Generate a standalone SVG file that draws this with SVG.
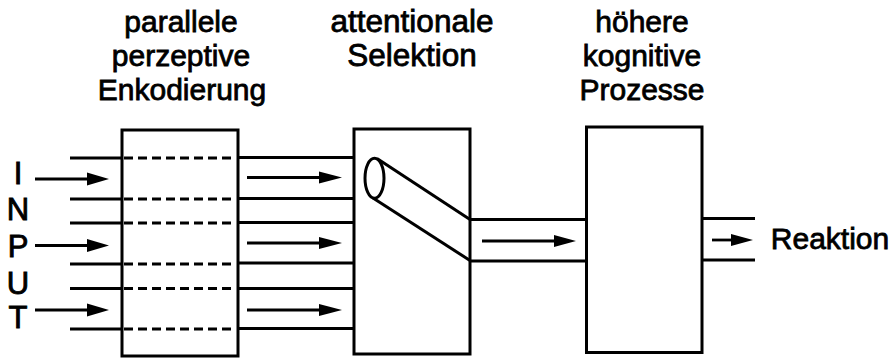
<svg xmlns="http://www.w3.org/2000/svg" width="895" height="360" viewBox="0 0 895 360">
  <defs>
    <style>
      .box { fill: #fff; stroke: #000; stroke-width: 3; }
      .ln { stroke: #000; stroke-width: 3; fill: none; }
      .dash { stroke: #000; stroke-width: 3; stroke-dasharray: 9 5; fill: none; }
      .arr { stroke: #000; stroke-width: 2.8; fill: none; }
      .head { fill: #000; }
      .lbl { font-family: "Liberation Sans", Arial, sans-serif; font-size: 30px; fill: #000; stroke: #000; stroke-width: 0.8; text-anchor: middle; }
      .inp { font-family: "Liberation Sans", Arial, sans-serif; font-size: 31px; fill: #000; stroke: #000; stroke-width: 0.9; text-anchor: middle; }
    </style>
  </defs>
  <rect width="895" height="360" fill="#fff"/>

  <!-- stage headings -->
  <g id="heading-encoding">
    <text class="lbl" x="181" y="32">parallele</text>
    <text class="lbl" x="181" y="66">perzeptive</text>
    <text class="lbl" x="182" y="100">Enkodierung</text>
  </g>
  <g id="heading-selection">
    <text class="lbl" x="412" y="32" style="font-size:31.5px">attentionale</text>
    <text class="lbl" x="412" y="66" style="font-size:31.5px">Selektion</text>
  </g>
  <g id="heading-cognition">
    <text class="lbl" x="642" y="32">höhere</text>
    <text class="lbl" x="642" y="66">kognitive</text>
    <text class="lbl" x="642" y="100">Prozesse</text>
  </g>

  <!-- INPUT letters -->
  <g id="input-label">
    <text class="inp" x="18" y="184">I</text>
    <text class="inp" x="18" y="220">N</text>
    <text class="inp" x="18" y="257">P</text>
    <text class="inp" x="18" y="294">U</text>
    <text class="inp" x="18" y="328">T</text>
  </g>

  <!-- boxes -->
  <g id="encoding">
    <rect class="box" x="122" y="130" width="116" height="226"/>
  </g>
  <g id="selection">
    <rect class="box" x="354" y="129" width="116" height="225"/>
    <!-- selection tube -->
    <line class="ln" x1="377" y1="158.5" x2="470" y2="219.5"/>
    <line class="ln" x1="373" y1="198" x2="470" y2="260.5"/>
    <ellipse class="ln" cx="374.5" cy="178.3" rx="9.5" ry="20" fill="#fff"/>
  </g>
  <g id="cognition">
    <rect class="box" x="586.5" y="127" width="115.5" height="225.5"/>
  </g>
  <g id="reaction">
    <text class="lbl" x="830" y="249">Reaktion</text>
  </g>

  <g id="connectors">
    <!-- parallel channels: input side -->
    <g>
      <line class="ln" x1="70" y1="158" x2="122" y2="158"/>
      <line class="ln" x1="70" y1="199" x2="122" y2="199"/>
      <line class="ln" x1="70" y1="223" x2="122" y2="223"/>
      <line class="ln" x1="70" y1="264" x2="122" y2="264"/>
      <line class="ln" x1="70" y1="288.5" x2="122" y2="288.5"/>
      <line class="ln" x1="70" y1="329" x2="122" y2="329"/>
    </g>
    <!-- channels through the encoding stage -->
    <g>
      <line class="dash" x1="124" y1="158" x2="236" y2="158"/>
      <line class="dash" x1="124" y1="199" x2="236" y2="199"/>
      <line class="dash" x1="124" y1="223" x2="236" y2="223"/>
      <line class="dash" x1="124" y1="264" x2="236" y2="264"/>
      <line class="dash" x1="124" y1="288.5" x2="236" y2="288.5"/>
      <line class="dash" x1="124" y1="329" x2="236" y2="329"/>
    </g>
    <!-- channels to the selection stage -->
    <g>
      <line class="ln" x1="238" y1="157.5" x2="354" y2="157.5"/>
      <line class="ln" x1="238" y1="198.5" x2="354" y2="198.5"/>
      <line class="ln" x1="238" y1="222.5" x2="354" y2="222.5"/>
      <line class="ln" x1="238" y1="263" x2="354" y2="263"/>
      <line class="ln" x1="238" y1="288.5" x2="354" y2="288.5"/>
      <line class="ln" x1="238" y1="328.5" x2="354" y2="328.5"/>
    </g>
    <!-- selected channel to higher processes -->
    <line class="ln" x1="470" y1="219.5" x2="586.5" y2="219.5"/>
    <line class="ln" x1="470" y1="261" x2="586.5" y2="261"/>
    <!-- output channel -->
    <line class="ln" x1="702" y1="218.5" x2="755" y2="218.5"/>
    <line class="ln" x1="702" y1="260" x2="755" y2="260"/>

    <!-- flow arrows -->
    <g>
      <line class="arr" x1="35" y1="179" x2="90" y2="179"/>
      <polygon class="head" points="87,172.5 109,179 87,185.5"/>
      <line class="arr" x1="35" y1="245.5" x2="90" y2="245.5"/>
      <polygon class="head" points="87,239 109,245.5 87,252"/>
      <line class="arr" x1="35" y1="310" x2="90" y2="310"/>
      <polygon class="head" points="87,303.5 109,310 87,316.5"/>

      <line class="arr" x1="247" y1="177.5" x2="322" y2="177.5"/>
      <polygon class="head" points="319,171.5 342,177.5 319,183.5"/>
      <line class="arr" x1="247" y1="243" x2="322" y2="243"/>
      <polygon class="head" points="319,237 342,243 319,249"/>
      <line class="arr" x1="247" y1="310" x2="322" y2="310"/>
      <polygon class="head" points="319,304 342,310 319,316"/>

      <line class="arr" x1="482" y1="241" x2="557" y2="241"/>
      <polygon class="head" points="554,235 576,241 554,247"/>

      <line class="arr" x1="712" y1="240" x2="734" y2="240"/>
      <polygon class="head" points="731,234 753,240 731,246"/>
    </g>
  </g>
</svg>
